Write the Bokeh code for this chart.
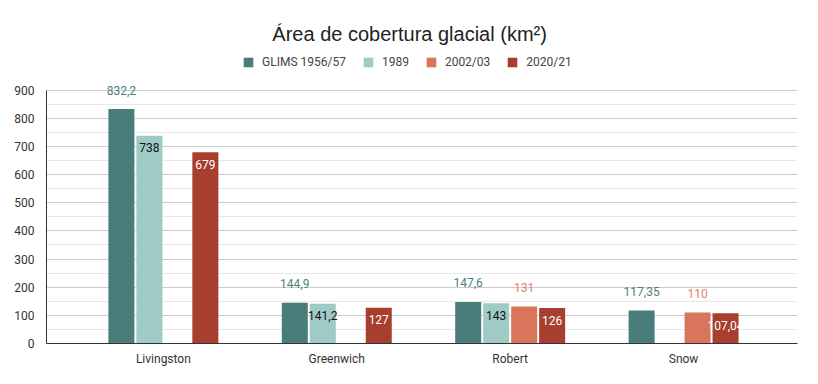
import numpy as np
from bokeh.plotting import figure
from bokeh.core.properties import value
from bokeh.models import (ColumnDataSource, Range1d, FixedTicker, Legend, LegendItem,
                          LabelSet, Label)
from bokeh.embed import file_html
from bokeh.resources import INLINE

categories = ["Livingston", "Greenwich", "Robert", "Snow"]
series = ["GLIMS 1956/57", "1989", "2002/03", "2020/21"]
glims = [832.2, 144.9, 147.6, 117.35]
y1989 = [738, 141.2, 143, None]
y2002 = [None, None, 131, 110]
y2020 = [679, 127, 126, 107.04]
label_glims = ["832,2", "144,9", "147,6", "117,35"]
label_1989 = ["738", "141,2", "143", ""]
label_2002 = ["", "", "131", "110"]
label_2020 = ["679", "127", "126", "107,04"]
y_ticks = [0, 100, 200, 300, 400, 500, 600, 700, 800, 900]

colors = ["#487d7b", "#9fcbc6", "#d8755b", "#a83e2e"]
label_colors = ["#4c807e", "#111111", "#e07f66", "#ffffff"]
label_inside = [False, True, False, True]
FONT = "Roboto"

X0, X1 = -0.674, 3.657
Y1 = 1200
p = figure(width=802, height=368, output_backend="svg", toolbar_location=None,
           x_range=Range1d(X0, X1), y_range=Range1d(0, Y1),
           min_border_left=46, min_border_right=5, min_border_bottom=20, min_border_top=5)
p.outline_line_color = None

# title drawn inside the (extended) frame area
title = Label(x=X0 + (X1 - X0) * 0.4835, y=1100, text="Área de cobertura glacial (km²)",
              text_align="center", text_baseline="middle", text_font="Liberation Sans",
              text_font_size="20px", text_color="#222222")
p.add_layout(title)

offsets = [-1.5, -0.5, 0.5, 1.5]
step = 0.1614
bw = 0.150
all_vals = [glims, y1989, y2002, y2020]
all_labels = [label_glims, label_1989, label_2002, label_2020]
items = []
for k in range(4):
    xs, tops, labs = [], [], []
    for i in range(4):
        v = all_vals[k][i]
        if v is None:
            continue
        xs.append(i + offsets[k] * step)
        tops.append(v)
        labs.append(all_labels[k][i])
    src = ColumnDataSource(dict(x=xs, top=tops, lab=labs))
    r = p.vbar(x="x", top="top", width=bw, source=src, fill_color=colors[k],
               line_color=None)
    items.append(LegendItem(label=series[k], renderers=[r]))
    ls = LabelSet(x="x", y="top", text="lab", source=src, text_align="center",
                  text_baseline="middle", text_font=value(FONT), text_font_size="12px",
                  text_color=label_colors[k],
                  y_offset=(-12 if label_inside[k] else 19))
    p.add_layout(ls)

legend = Legend(items=items, orientation="horizontal", location=(196, 274),
                label_text_font=FONT, label_text_font_size="12px",
                label_text_color="#444444", glyph_width=12, glyph_height=12,
                label_standoff=8, spacing=16, border_line_color=None,
                background_fill_alpha=0, padding=2, margin=0,
                label_height=12)
p.add_layout(legend, "center")

p.xaxis.ticker = FixedTicker(ticks=[0, 1, 2, 3])
p.xaxis.major_label_overrides = {i: c for i, c in enumerate(categories)}
p.xgrid.grid_line_color = None
p.xaxis.major_tick_line_color = None
p.xaxis.minor_tick_line_color = None
p.xaxis.axis_line_color = "#333333"
p.xaxis.major_label_text_font = FONT
p.xaxis.major_label_text_font_size = "12px"
p.xaxis.major_label_text_color = "#333333"
p.xaxis.major_label_standoff = 2

p.yaxis.ticker = FixedTicker(ticks=y_ticks, minor_ticks=[t + 50 for t in y_ticks[:-1]])
p.yaxis.bounds = (0, 900)
p.yaxis.major_tick_line_color = None
p.yaxis.minor_tick_line_color = None
p.yaxis.axis_line_color = "#333333"
p.yaxis.major_label_text_font = FONT
p.yaxis.major_label_text_font_size = "12px"
p.yaxis.major_label_text_color = "#333333"
p.yaxis.major_label_standoff = 6
p.ygrid.grid_line_color = "#cccccc"
p.ygrid.minor_grid_line_color = "#e8e8e8"

open("out.html", "w").write(file_html(p, INLINE))
